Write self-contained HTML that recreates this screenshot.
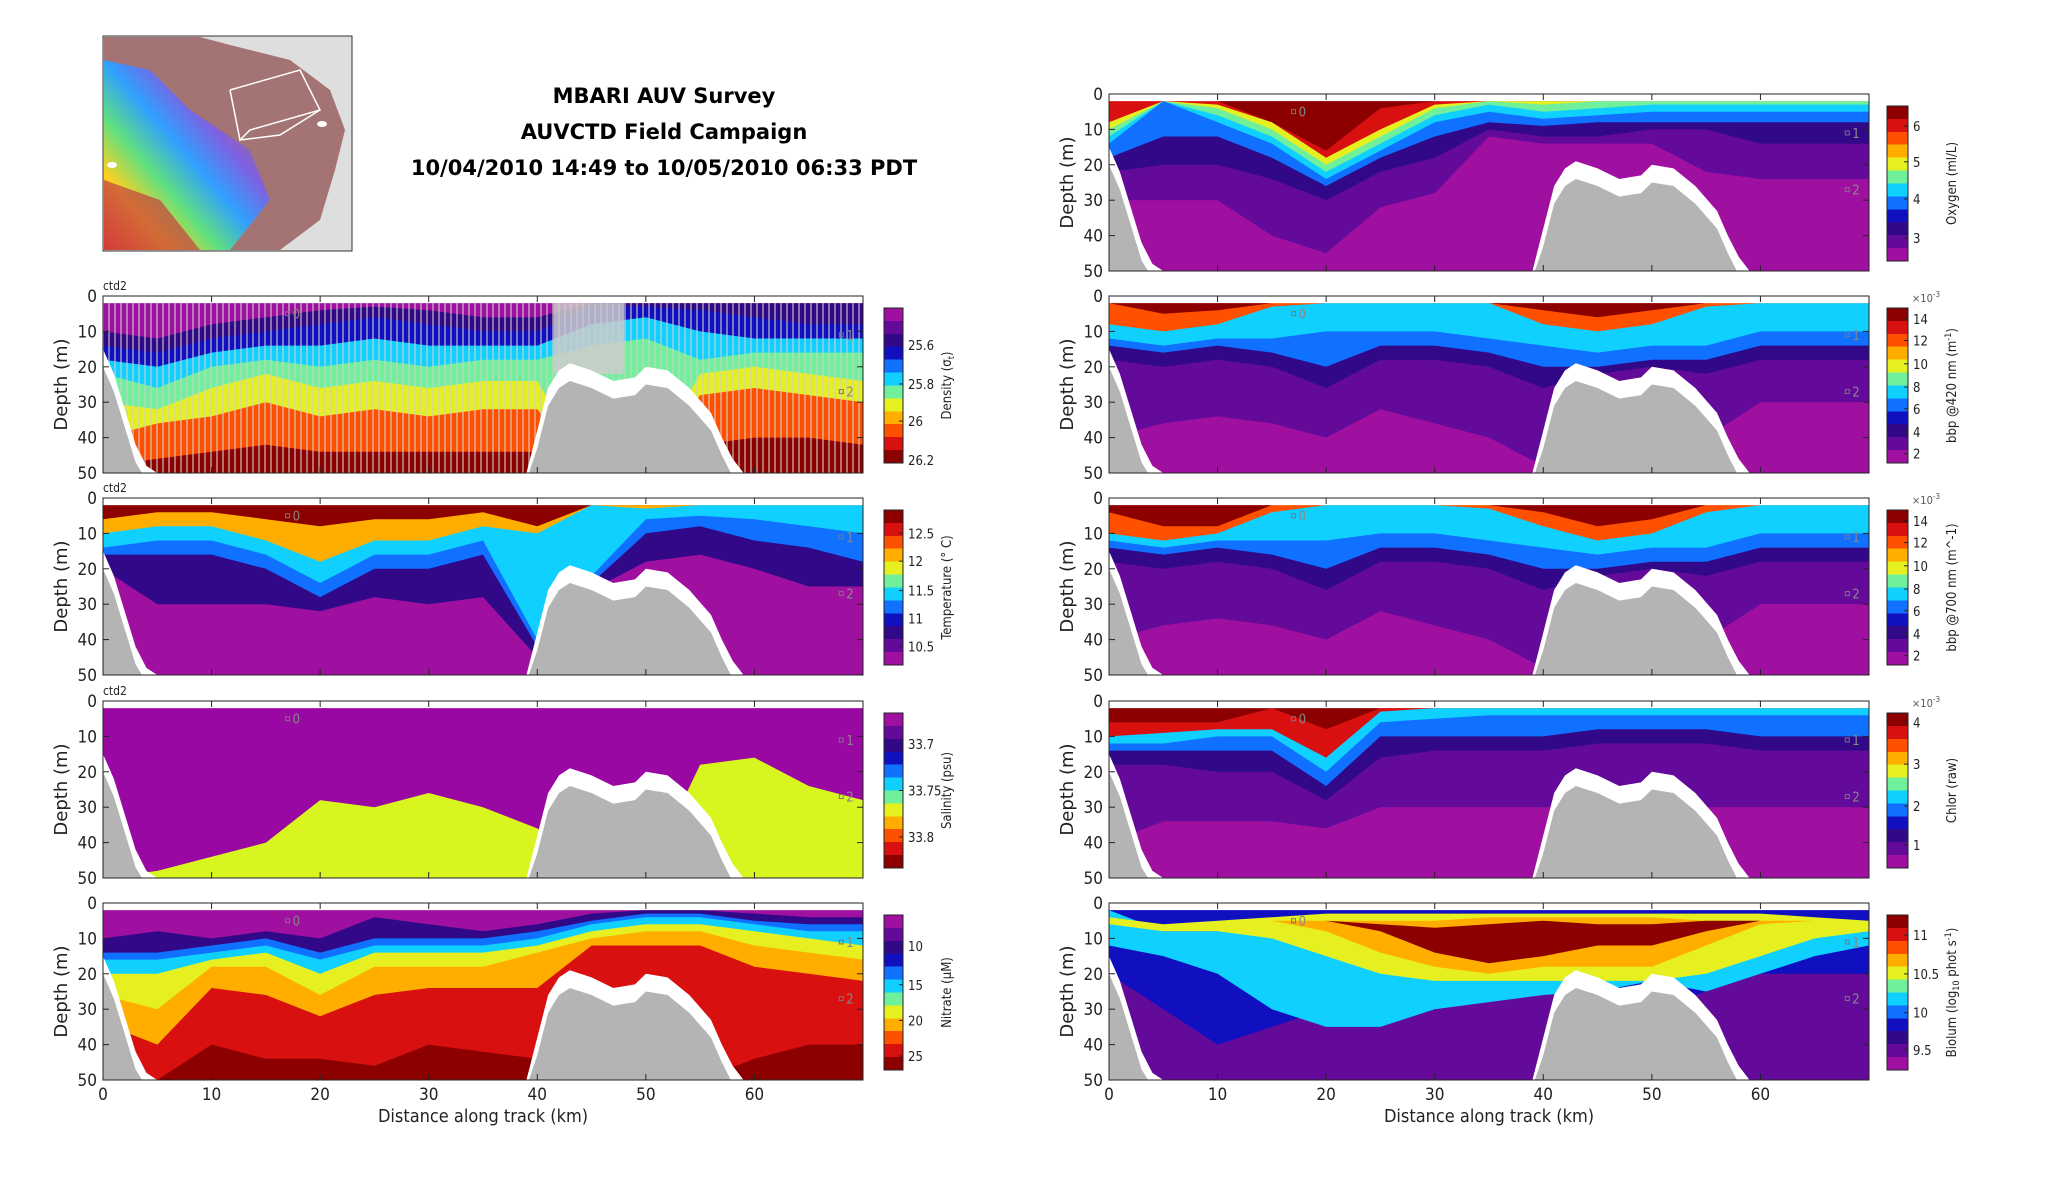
<!DOCTYPE html>
<html><head><meta charset="utf-8"><title>MBARI AUV Survey</title>
<style>
html,body{margin:0;padding:0;background:#fff;}
svg{display:block;font-family:"DejaVu Sans Condensed","Liberation Sans Narrow","Liberation Sans",sans-serif;}
.title{font-family:"DejaVu Sans","Liberation Sans",sans-serif;font-weight:bold;font-size:21px;}
</style></head>
<body>
<svg id="fig" width="2052" height="1188" viewBox="0 0 2052 1188" xmlns="http://www.w3.org/2000/svg">
<defs>
<linearGradient id="mapgrad" x1="0" y1="1" x2="1" y2="0">
<stop offset="0" stop-color="#ff3030"/><stop offset="0.2" stop-color="#ffd020"/><stop offset="0.35" stop-color="#60e080"/><stop offset="0.5" stop-color="#30a0ff"/><stop offset="0.65" stop-color="#8060e0"/><stop offset="0.8" stop-color="#a07078"/></linearGradient>
<pattern id="stripes" width="6" height="10" patternUnits="userSpaceOnUse"><rect x="0" y="0" width="2" height="10" fill="#cfcfcf"/></pattern>
</defs>
<g>
<rect x="103" y="36" width="249" height="215" fill="#dedede" stroke="#333" stroke-width="1"/>
<polygon points="104,37 200,37 230,45 290,60 330,90 345,130 335,170 320,220 280,250 104,250" fill="#a47474"/>
<polygon points="104,60 150,70 190,110 250,150 270,200 230,250 104,250" fill="url(#mapgrad)"/>
<polygon points="104,180 160,200 200,250 104,250" fill="#c04040" opacity="0.7"/>
<polyline points="230,90 300,70 320,110 250,130 240,140 230,90" fill="none" stroke="#fff" stroke-width="1.5"/>
<polyline points="240,140 280,135 320,110" fill="none" stroke="#fff" stroke-width="1.5"/>
<ellipse cx="112" cy="165" rx="5" ry="3" fill="#fff"/><ellipse cx="322" cy="124" rx="5" ry="3" fill="#fff"/>
</g>
<g>
<text class="title" x="664" y="103" text-anchor="middle">MBARI AUV Survey</text>
<text class="title" x="664" y="139" text-anchor="middle">AUVCTD Field Campaign</text>
<text class="title" x="664" y="175" text-anchor="middle">10/04/2010 14:49 to 10/05/2010 06:33 PDT</text>
</g>
</svg>
<script>
// ---- shared data ----
const kms=[0,5,10,15,20,25,30,35,40,45,50,55,60,65,70];
const bathyKm=[0,1,2,3,4,5,39,40,41,42,43,45,47,49,50,52,54,56,57,58,59,70];
const bathyDepth=[15,22,32,42,48,50,50,38,26,21,19,21,24,23,20,21,26,33,40,46,50,50];
const xTicks=[0,10,20,30,40,50,60];
const yTicks=[0,10,20,30,40,50];
const JET=['#8c0000','#d81010','#ff5000','#ffae00','#e6f020','#70f09a','#10d0ff','#1070ff','#1010c0','#300888','#640a9a','#a010a0'];
// ---- density ----
const denDarkBlue=[10,12,8,6,4,3,4,6,6,2,2,2,2,2,2];
const denBlue=[14,16,12,10,8,6,8,10,10,3,3,4,6,8,8];
const denCyan=[18,20,16,14,14,12,14,14,14,8,6,10,12,12,12];
const denGreen=[22,26,20,18,20,18,20,18,18,14,12,18,16,16,16];
const denYellow=[30,32,26,22,26,24,26,24,24,50,50,22,20,22,24];
const denOrange=[40,36,34,30,34,32,34,32,32,50,50,28,26,28,30];
const denRed=[48,46,44,42,44,44,44,44,44,50,50,42,40,40,42];
const denTicks=['25.6','25.8','26','26.2'];
const denTickPos=[0.24,0.49,0.73,0.98];
// ---- temperature ----
const tmpOrange=[6,4,4,6,8,6,6,4,8,2,2,2,2,2,2];
const tmpCyan=[10,8,8,12,18,12,12,8,10,2,3,2,2,2,2];
const tmpBlue=[14,12,12,16,24,16,16,12,40,22,6,5,6,8,10];
const tmpDarkBlue=[16,16,16,20,28,20,20,16,42,24,10,8,12,14,18];
const tmpPurple=[20,30,30,30,32,28,30,28,45,26,18,16,20,25,25];
const tmpTicks=['12.5','12','11.5','11','10.5'];
const tmpTickPos=[0.15,0.33,0.52,0.70,0.88];
// ---- salinity ----
const salYellow=[50,48,44,40,28,30,26,30,36,48,50,18,16,24,28];
const salTicks=['33.7','33.75','33.8'];
const salTickPos=[0.2,0.5,0.8];
// ---- nitrate ----
const nitDarkBlue=[10,8,10,8,10,4,6,8,6,3,2,2,3,4,4];
const nitBlue=[14,14,12,10,14,10,10,10,8,5,3,3,5,6,6];
const nitCyan=[16,16,14,12,16,12,12,12,10,6,4,4,6,8,8];
const nitYellow=[20,20,16,14,20,14,14,14,12,8,6,6,8,10,12];
const nitOrange=[26,30,18,18,26,18,18,18,14,10,8,8,12,14,16];
const nitRed=[34,40,24,26,32,26,24,24,24,12,12,12,18,20,22];
const nitDarkRed=[48,50,40,44,44,46,40,42,44,50,50,50,44,40,40];
const nitTicks=['10','15','20','25'];
const nitTickPos=[0.2,0.45,0.68,0.91];
// ---- oxygen ----
const oxyDarkRedBot=[2,2,2,8,16,4,2,2,2,2,2,2,2,2,2];
const oxyYellow=[8,2,3,8,18,10,3,2,2,2,2,2,2,2,2];
const oxyGreen=[10,2,4,10,20,12,4,2,3,2,2,2,2,2,2];
const oxyCyan=[12,2,6,12,22,14,6,3,5,4,3,3,3,3,3];
const oxyBlue=[14,2,8,14,24,16,8,5,7,6,5,5,5,5,5];
const oxyDarkBlue=[18,12,12,18,26,18,12,8,9,8,8,8,8,8,8];
const oxyPurple=[22,20,20,24,30,22,18,10,12,12,10,10,14,14,14];
const oxyMagenta=[30,30,30,40,45,32,28,12,14,14,14,22,24,24,24];
const oxyTicks=['6','5','4','3'];
const oxyTickPos=[0.13,0.36,0.6,0.85];
// ---- bbp 420 ----
const b4DarkRedBot=[2,5,4,2,2,2,2,2,4,6,4,2,2,2,2];
const b4Cyan=[8,10,8,3,2,2,2,2,8,10,8,3,2,2,2];
const b4Blue=[12,14,12,12,10,10,10,12,14,16,14,14,10,10,10];
const b4DarkBlue=[14,16,14,16,20,14,14,16,20,20,18,18,14,14,14];
const b4Purple=[18,20,18,20,26,18,18,20,26,22,20,22,18,18,18];
const b4Magenta=[40,36,34,36,40,32,36,40,48,50,50,40,30,30,30];
// ---- bbp 700 ----
const b7DarkRedBot=[4,8,8,2,2,2,2,2,4,8,6,2,2,2,2];
const b7Cyan=[10,12,10,4,2,2,2,3,8,12,10,4,2,2,2];
const b7Blue=[12,14,12,12,12,10,10,12,14,16,14,14,10,10,10];
const b7DarkBlue=[14,16,14,16,20,14,14,16,20,20,18,18,14,14,14];
const b7Purple=[18,20,18,20,26,18,18,20,26,22,20,22,18,18,18];
const b7Magenta=[40,36,34,36,40,32,36,40,48,50,50,40,30,30,30];
const bbpTicks=['14','12','10','8','6','4','2'];
const bbpTickPos=[0.07,0.21,0.36,0.51,0.65,0.80,0.94];
// ---- chlor ----
const chlRed=[6,6,6,2,8,2,2,2,2,2,2,2,2,2,2];
const chlCyan=[10,9,8,8,16,3,2,2,2,2,2,2,2,2,2];
const chlBlue=[12,12,10,10,20,6,5,4,4,4,4,4,4,4,4];
const chlDarkBlue=[14,14,14,14,24,10,10,10,10,8,8,8,10,10,10];
const chlPurple=[18,18,20,20,28,16,14,14,14,12,12,12,14,14,14];
const chlMagenta=[40,34,34,34,36,30,30,30,30,30,30,30,30,30,30];
const chlTicks=['4','3','2','1'];
const chlTickPos=[0.06,0.33,0.6,0.85];
// ---- biolum ----
const bioBlueBot=[20,30,40,35,30,25,20,20,20,25,30,25,20,20,20];
const bioCyanTop=[2,8,8,6,5,5,6,4,4,4,4,4,4,6,8];
const bioCyanBot=[12,15,20,30,35,35,30,28,26,25,22,25,20,15,12];
const bioYellowTop=[4,6,5,4,3,3,3,3,3,3,3,3,3,4,5];
const bioYellowBot=[6,8,8,10,15,20,22,22,22,22,22,20,15,10,8];
const bioOrangeTop=[5,5,5,5,5,5,5,4,4,4,4,5,5,5,5];
const bioOrangeBot=[5,5,5,5,8,14,18,20,18,18,18,12,6,5,5];
const bioRedTop=[5,5,5,5,5,6,7,6,5,6,6,5,5,5,5];
const bioRedBot=[5,5,5,5,5,8,14,17,15,12,12,8,5,5,5];
const bioTicks=['11','10.5','10','9.5'];
const bioTickPos=[0.13,0.38,0.63,0.87];

const J=JET;
const panels=[
 {name:'density',x0:103,y0:296,ctd:true,xl:false,rev:true,base:J[11],bands:[[J[9],denDarkBlue],[J[8],denBlue],[J[6],denCyan],[J[5],denGreen],[J[4],denYellow],[J[2],denOrange],[J[0],denRed]],ticks:denTicks,tpos:denTickPos,label:'Density (σ<tspan font-size="9" dy="3">t</tspan><tspan dy="-3">)</tspan>',stripes:true},
 {name:'temperature',x0:103,y0:498,ctd:true,xl:false,rev:false,base:J[0],bands:[[J[3],tmpOrange],[J[6],tmpCyan],[J[7],tmpBlue],[J[9],tmpDarkBlue],[J[11],tmpPurple]],ticks:tmpTicks,tpos:tmpTickPos,label:'Temperature (° C)'},
 {name:'salinity',x0:103,y0:701,ctd:true,xl:false,rev:true,base:'#9a08a4',bands:[['#d8f520',salYellow]],ticks:salTicks,tpos:salTickPos,label:'Salinity (psu)'},
 {name:'nitrate',x0:103,y0:903,ctd:false,xl:true,rev:true,base:J[11],bands:[[J[9],nitDarkBlue],[J[7],nitBlue],[J[6],nitCyan],[J[4],nitYellow],[J[3],nitOrange],[J[1],nitRed],[J[0],nitDarkRed]],ticks:nitTicks,tpos:nitTickPos,label:'Nitrate (μM)'},
 {name:'oxygen',x0:1109,y0:94,ctd:false,xl:false,rev:false,base:J[1],bands:[[J[0],null,oxyDarkRedBot],[J[4],oxyYellow],[J[5],oxyGreen],[J[6],oxyCyan],[J[7],oxyBlue],[J[9],oxyDarkBlue],[J[10],oxyPurple],[J[11],oxyMagenta]],ticks:oxyTicks,tpos:oxyTickPos,label:'Oxygen (ml/L)'},
 {name:'bbp420',x0:1109,y0:296,ctd:false,xl:false,rev:false,base:J[2],exp:true,bands:[[J[0],null,b4DarkRedBot],[J[6],b4Cyan],[J[7],b4Blue],[J[9],b4DarkBlue],[J[10],b4Purple],[J[11],b4Magenta]],ticks:bbpTicks,tpos:bbpTickPos,label:'bbp @420 nm (m<tspan font-size="9" dy="-5">-1</tspan><tspan dy="5">)</tspan>'},
 {name:'bbp700',x0:1109,y0:498,ctd:false,xl:false,rev:false,base:J[2],exp:true,bands:[[J[0],null,b7DarkRedBot],[J[6],b7Cyan],[J[7],b7Blue],[J[9],b7DarkBlue],[J[10],b7Purple],[J[11],b7Magenta]],ticks:bbpTicks,tpos:bbpTickPos,label:'bbp @700 nm (m^-1)'},
 {name:'chlor',x0:1109,y0:701,ctd:false,xl:false,rev:false,base:J[0],exp:true,bands:[[J[1],chlRed],[J[6],chlCyan],[J[7],chlBlue],[J[9],chlDarkBlue],[J[10],chlPurple],[J[11],chlMagenta]],ticks:chlTicks,tpos:chlTickPos,label:'Chlor (raw)'},
 {name:'biolum',x0:1109,y0:903,ctd:false,xl:true,rev:false,base:J[10],bands:[[J[8],null,bioBlueBot],[J[6],bioCyanTop,bioCyanBot],[J[4],bioYellowTop,bioYellowBot],[J[3],bioOrangeTop,bioOrangeBot],[J[0],bioRedTop,bioRedBot]],ticks:bioTicks,tpos:bioTickPos,label:'Biolum (log<tspan font-size="9" dy="3">10</tspan><tspan dy="-3"> phot s</tspan><tspan font-size="9" dy="-5">-1</tspan><tspan dy="5">)</tspan>'}
];
const W=760,H=177;
const NS='http://www.w3.org/2000/svg';
const svg=document.getElementById('fig');
function mk(tag,attrs,parent){const e=document.createElementNS(NS,tag);for(const k in attrs)e.setAttribute(k,attrs[k]);(parent||svg).appendChild(e);return e;}

panels.forEach((p,pi)=>{
 const xS=k=>p.x0+k/70*W, yS=d=>p.y0+d/50*H;
 const g=mk('g',{});
 
 
 const cp=mk('clipPath',{id:'cp'+pi},g);
 mk('rect',{x:p.x0,y:p.y0,width:W,height:H},cp);
 const plot=mk('g',{'clip-path':'url(#cp'+pi+')'},g);
 const base=mk('rect',{x:p.x0,y:yS(2),width:W,height:yS(50)-yS(2),fill:p.base},plot);
 
 
 p.bands.forEach((b,bi)=>{
  const top=b[1]||kms.map(()=>2), bot=b[2]||kms.map(()=>50);
  let pts=kms.map((k,i)=>xS(k).toFixed(1)+','+yS(Math.max(2,top[i])).toFixed(1));
  for(let i=kms.length-1;i>=0;i--)pts.push(xS(kms[i]).toFixed(1)+','+yS(Math.max(2,bot[i])).toFixed(1));
  const poly=mk('polygon',{points:pts.join(' '),fill:b[0]},plot);
  
  
 });
 if(p.stripes){
  const s=mk('rect',{x:p.x0,y:yS(2),width:W,height:H,fill:'url(#stripes)',opacity:0.55},plot);
  
  
  const gp=[xS(41.5),yS(2),xS(48),yS(2),xS(48),yS(22),xS(41.5),yS(22)];
  const gr=mk('polygon',{points:gp.join(' '),fill:'#cccccc',opacity:0.85},plot);
  
  
 }
 let wp=bathyKm.map((k,i)=>xS(k)+','+yS(bathyDepth[i]));
 wp.push(xS(70)+','+yS(52),xS(0)+','+yS(52));
 const wpoly=mk('polygon',{points:wp.join(' '),fill:'#fff'},plot);
 
 
 let gpnts=bathyKm.map((k,i)=>xS(k)+','+yS(Math.min(52,bathyDepth[i]+5)));
 gpnts.push(xS(70)+','+yS(52),xS(0)+','+yS(52));
 const gpoly=mk('polygon',{points:gpnts.join(' '),fill:'#b4b4b4'},plot);
 
 
 const topw=mk('rect',{x:p.x0,y:p.y0,width:W,height:yS(2)-p.y0,fill:'#fff'},plot);
 
 
 [[17,5,'0'],[68,11,'1'],[68,27,'2']].forEach(m=>{
  mk('rect',{x:xS(m[0])-2,y:yS(m[1])-2,width:4,height:4,fill:'none',stroke:'#777','stroke-width':1},g);
  const t=mk('text',{x:xS(m[0])+5,y:yS(m[1])+5,'font-size':13,fill:'#888'},g);t.textContent=m[2];
  
  
 });
 const fr=mk('rect',{x:p.x0,y:p.y0,width:W,height:H,fill:'none',stroke:'#222','stroke-width':1},g);
 
 
 yTicks.forEach(v=>{
  const y=yS(v);
  mk('line',{x1:p.x0,x2:p.x0+6,y1:y,y2:y,stroke:'#222'},g);
  mk('line',{x1:p.x0+W,x2:p.x0+W-6,y1:y,y2:y,stroke:'#222'},g);
  const t=mk('text',{x:p.x0-6,y:y+6,'font-size':17,'text-anchor':'end',fill:'#222'},g);t.textContent=v;
  
  
 });
 xTicks.forEach(v=>{
  const x=xS(v);
  mk('line',{x1:x,x2:x,y1:p.y0+H,y2:p.y0+H-6,stroke:'#222'},g);
  mk('line',{x1:x,x2:x,y1:p.y0,y2:p.y0+6,stroke:'#222'},g);
  if(p.xl){const t=mk('text',{x:x,y:p.y0+H+20,'font-size':17,'text-anchor':'middle',fill:'#222'},g);t.textContent=v;
   
   }
 });
 const yl=mk('text',{x:0,y:0,'font-size':18,'text-anchor':'middle',fill:'#222',transform:`translate(${p.x0-36},${p.y0+H/2}) rotate(-90)`,'font-family':'"DejaVu Sans","Liberation Sans",sans-serif'},g);
 yl.textContent='Depth (m)';
 
 
 if(p.xl){const xl=mk('text',{x:p.x0+W/2,y:p.y0+H+42,'font-size':18,'text-anchor':'middle',fill:'#222'},g);xl.textContent='Distance along track (km)';
  
  }
 if(p.ctd){const c=mk('text',{x:p.x0,y:p.y0-6,'font-size':12,fill:'#222'},g);c.textContent='ctd2';
  
  }
 const right=p.x0>600;
 const cbx=right?1887:884, cbw=right?21:19, cby=p.y0+12, cbh=155;
 const gid='cbg'+pi;
 const lg=mk('linearGradient',{id:gid,x1:0,y1:0,x2:0,y2:1},svg.querySelector('defs'));
 const cols=p.rev?JET.slice().reverse():JET;
 cols.forEach((c,i)=>{mk('stop',{offset:i/cols.length,'stop-color':c},lg);mk('stop',{offset:(i+1)/cols.length,'stop-color':c},lg);});
 const cb=mk('rect',{x:cbx,y:cby,width:cbw,height:cbh,fill:'url(#'+gid+')',stroke:'#222','stroke-width':1},g);
 
 
 p.ticks.forEach((t,i)=>{
  const y=cby+p.tpos[i]*cbh;
  mk('line',{x1:cbx+cbw-4,x2:cbx+cbw,y1:y,y2:y,stroke:'#222'},g);
  const tt=mk('text',{x:cbx+cbw+5,y:y+5,'font-size':13,fill:'#222'},g);tt.textContent=t;
  
  
 });
 if(p.exp){const e=mk('text',{x:cbx+cbw+4,y:cby-6,'font-size':11,fill:'#555'},g);e.innerHTML='×10<tspan font-size="8" dy="-5">-3</tspan>';
  
  }
 const cl=mk('text',{x:0,y:0,'font-size':13,'text-anchor':'middle',fill:'#222',transform:`translate(${cbx+cbw+48},${cby+cbh/2}) rotate(-90)`},g);
 cl.innerHTML=p.label;
 
 
});
</script>
</body></html>
